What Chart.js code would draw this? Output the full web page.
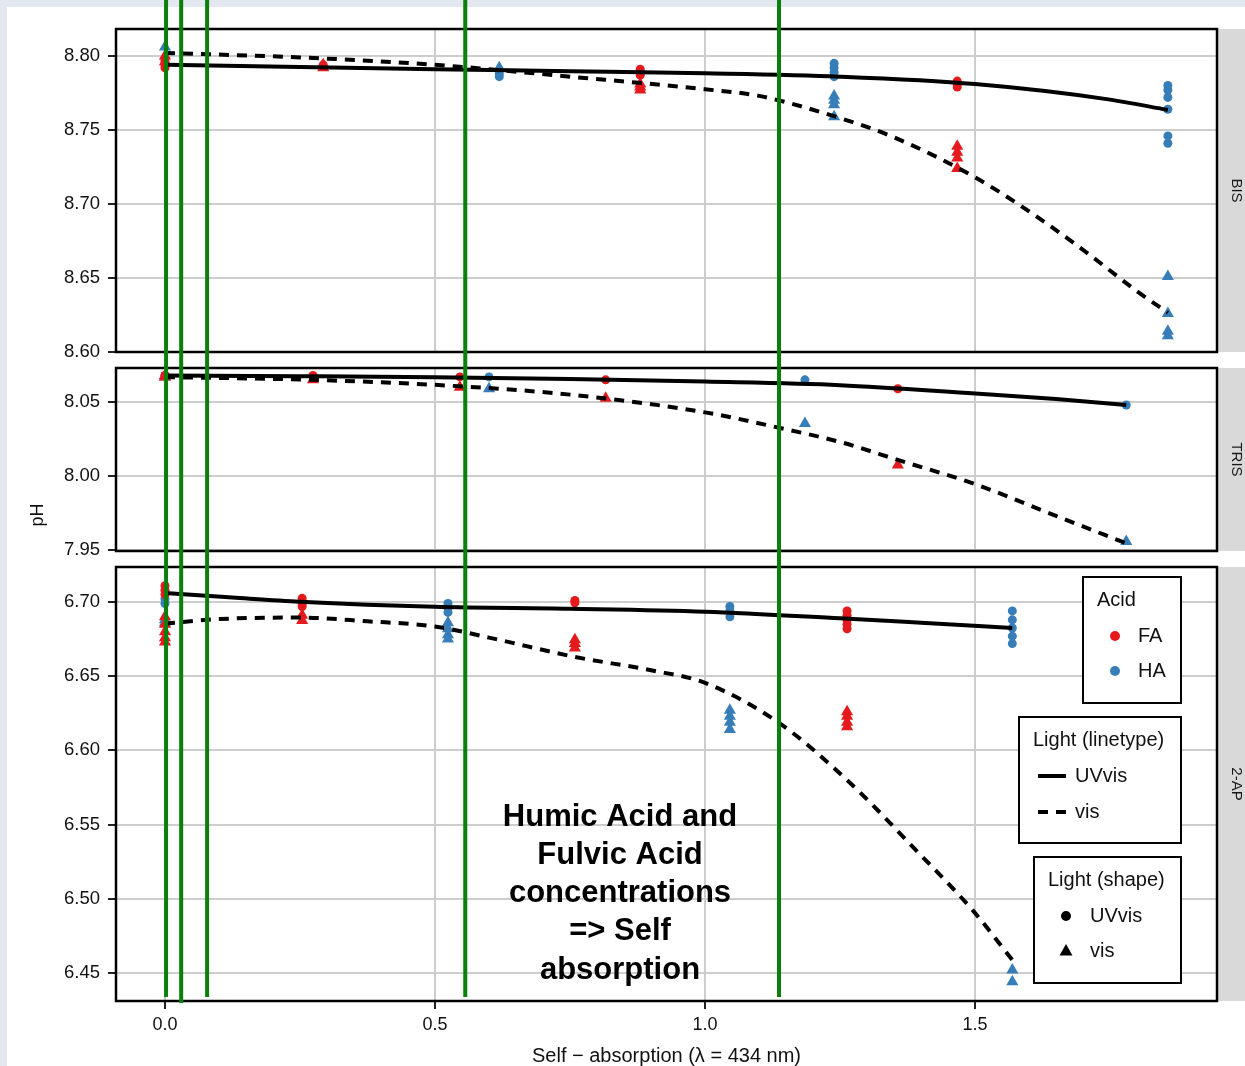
<!DOCTYPE html>
<html>
<head>
<meta charset="utf-8">
<script src="https://cdn.jsdelivr.net/npm/chart.js@4.4.0/dist/chart.umd.min.js"></script>
<style>
  body { margin: 0; background: #e3e7f0; width: 1245px; height: 1066px; overflow: hidden; }
  #page { position: absolute; left: 7px; top: 7px; width: 1238px; height: 1059px; background: #fff; }
  canvas { position: absolute; left: 0; }
</style>
</head>
<body>
<div id="page"></div>
<canvas id="bis" width="1245" height="360" style="top:0"></canvas>
<canvas id="tris" width="1245" height="199" style="top:360px"></canvas>
<canvas id="ap" width="1245" height="507" style="top:559px"></canvas>
<script>
// ---- data ----
const xTicks = [0, 0.5, 1.0, 1.5];
const greenLineX = [0.002, 0.030, 0.078, 0.556, 1.137];

const bisTicks = [8.60, 8.65, 8.70, 8.75, 8.80];
const bisFaUvvis = [[0,8.797],[0,8.794],[0,8.792],[0.293,8.794],[0.880,8.791],[0.880,8.789],[0.880,8.787],[1.467,8.783],[1.467,8.781],[1.467,8.779]];
const bisFaVis = [[0,8.800],[0,8.796],[0.293,8.794],[0.293,8.792],[0.880,8.781],[0.880,8.779],[0.880,8.777],[1.467,8.739],[1.467,8.735],[1.467,8.731],[1.467,8.724]];
const bisHaUvvis = [[0,8.795],[0.619,8.788],[0.619,8.786],[1.239,8.795],[1.239,8.792],[1.239,8.789],[1.239,8.786],[1.857,8.780],[1.857,8.777],[1.857,8.772],[1.857,8.764],[1.857,8.746],[1.857,8.741]];
const bisHaVis = [[0,8.806],[0.619,8.792],[1.239,8.773],[1.239,8.770],[1.239,8.767],[1.239,8.759],[1.857,8.651],[1.857,8.626],[1.857,8.614],[1.857,8.611]];
const bisUvvisFitX = [0, 0.25, 0.5, 0.75, 1.0, 1.25, 1.5, 1.75, 1.857];
const bisUvvisFit = [8.7940, 8.7925, 8.7910, 8.7897, 8.7883, 8.7860, 8.7810, 8.7705, 8.7635];
const bisVisFitX = [0, 0.25, 0.5, 0.75, 1.0, 1.1, 1.25, 1.35, 1.5, 1.6, 1.7, 1.8, 1.857];
const bisVisFit = [8.8020, 8.7990, 8.7940, 8.7860, 8.7775, 8.7730, 8.7580, 8.7450, 8.7180, 8.6950, 8.6690, 8.6410, 8.6265];

const trisTicks = [7.95, 8.00, 8.05];
const trisFaUvvis = [[0,8.068],[0.274,8.068],[0.546,8.067],[0.816,8.065],[1.357,8.059]];
const trisFaVis = [[0,8.068],[0,8.067],[0.274,8.065],[0.546,8.060],[0.816,8.0525],[1.357,8.0075]];
const trisHaUvvis = [[0,8.068],[0.600,8.067],[1.185,8.065],[1.780,8.048]];
const trisHaVis = [[0,8.067],[0.600,8.059],[1.185,8.0355],[1.780,7.9557]];
const trisUvvisFitX = [0, 0.25, 0.5, 0.75, 1.0, 1.25, 1.5, 1.65, 1.78];
const trisUvvisFit = [8.0680, 8.0675, 8.0668, 8.0655, 8.0638, 8.0614, 8.0557, 8.0520, 8.0480];
const trisVisFitX = [0, 0.25, 0.5, 0.75, 1.0, 1.137, 1.25, 1.36, 1.5, 1.65, 1.78];
const trisVisFit = [8.0668, 8.0652, 8.0616, 8.0550, 8.0430, 8.0326, 8.0230, 8.0105, 7.9945, 7.9730, 7.9545];

const apTicks = [6.45, 6.50, 6.55, 6.60, 6.65, 6.70];
const apFaUvvis = [[0,6.711],[0,6.708],[0,6.705],[0.254,6.7025],[0.254,6.699],[0.254,6.697],[0.759,6.701],[0.759,6.6995],[1.263,6.694],[1.263,6.691],[1.263,6.688],[1.263,6.685],[1.263,6.682]];
const apFaVis = [[0,6.690],[0,6.685],[0,6.680],[0,6.676],[0,6.673],[0.254,6.691],[0.254,6.6875],[0.759,6.6745],[0.759,6.672],[0.759,6.669],[1.263,6.626],[1.263,6.623],[1.263,6.619],[1.263,6.616]];
const apHaUvvis = [[0,6.702],[0,6.699],[0.524,6.699],[0.524,6.696],[0.524,6.693],[1.046,6.697],[1.046,6.694],[1.046,6.690],[1.569,6.694],[1.569,6.688],[1.569,6.6825],[1.569,6.677],[1.569,6.672]];
const apHaVis = [[0,6.688],[0,6.686],[0.524,6.686],[0.524,6.682],[0.524,6.678],[0.524,6.675],[1.046,6.627],[1.046,6.623],[1.046,6.619],[1.046,6.614],[1.569,6.452],[1.569,6.444]];
const apUvvisFitX = [0, 0.125, 0.25, 0.5, 0.75, 1.0, 1.25, 1.4, 1.569];
const apUvvisFit = [6.7060, 6.7030, 6.7002, 6.6968, 6.6955, 6.6935, 6.6890, 6.6860, 6.6825];
const apVisFitX = [0, 0.1, 0.25, 0.375, 0.5, 0.6, 0.759, 0.9, 1.0, 1.137, 1.263, 1.39, 1.495, 1.569];
const apVisFit = [6.6855, 6.6885, 6.6895, 6.6870, 6.6835, 6.6760, 6.6630, 6.6540, 6.6455, 6.6185, 6.5800, 6.5330, 6.4925, 6.4588];

const acidNames = ['FA', 'HA'];
const lightNames = ['UVvis', 'vis'];
const noteLines = ['Humic Acid and', 'Fulvic Acid', 'concentrations', '=> Self', 'absorption'];

// ---- styling ----
const RED = '#e41a1c', BLUE = '#377eb8', GRID = '#cdcdcd', GREEN = '#0a800a';
const FONT = "'Liberation Sans', Arial, sans-serif";
Chart.defaults.font.family = FONT;

function pts(arr) { return arr.map(p => ({x: p[0], y: p[1]})); }
function curve(xs, ys) { return xs.map((x, i) => ({x: x, y: ys[i]})); }

function pointSet(data, color, shape) {
  return {
    data: pts(data), backgroundColor: color, borderColor: color, borderWidth: 0,
    pointStyle: shape, pointRadius: shape === 'circle' ? 4.5 : 7, showLine: false, order: 2
  };
}
function lineSet(xs, ys, dashed) {
  return {
    data: curve(xs, ys), borderColor: '#000', borderWidth: 4, borderDash: dashed ? [10, 8] : [],
    showLine: true, pointRadius: 0, cubicInterpolationMode: 'monotone', fill: false, order: 1
  };
}

function drawLegends(ctx, off) {
  ctx.lineWidth = 2;
  ctx.strokeStyle = '#000';
  ctx.textBaseline = 'middle';
  ctx.textAlign = 'left';
  ctx.font = '20px ' + FONT;
  // Acid
  ctx.fillStyle = '#fff';
  ctx.fillRect(1083, 577 - off, 98, 126);
  ctx.strokeRect(1083, 577 - off, 98, 126);
  ctx.fillStyle = '#111';
  ctx.fillText('Acid', 1097, 600 - off);
  [RED, BLUE].forEach((c, i) => {
    const y = 636 + i * 35 - off;
    ctx.fillStyle = c;
    ctx.beginPath(); ctx.arc(1115, y, 5, 0, Math.PI * 2); ctx.fill();
    ctx.fillStyle = '#111';
    ctx.fillText(acidNames[i], 1138, y);
  });
  // Light (linetype)
  ctx.fillStyle = '#fff';
  ctx.fillRect(1019, 717 - off, 162, 126);
  ctx.strokeRect(1019, 717 - off, 162, 126);
  ctx.fillStyle = '#111';
  ctx.fillText('Light (linetype)', 1033, 740 - off);
  lightNames.forEach((n, i) => {
    const y = 776 + i * 36 - off;
    ctx.save();
    ctx.lineWidth = 4;
    ctx.setLineDash(i ? [10, 8] : []);
    ctx.beginPath(); ctx.moveTo(1038, y); ctx.lineTo(1066, y); ctx.stroke();
    ctx.restore();
    ctx.fillStyle = '#111';
    ctx.fillText(n, 1075, y);
  });
  // Light (shape)
  ctx.fillStyle = '#fff';
  ctx.fillRect(1034, 857 - off, 147, 126);
  ctx.strokeRect(1034, 857 - off, 147, 126);
  ctx.fillStyle = '#111';
  ctx.fillText('Light (shape)', 1048, 880 - off);
  lightNames.forEach((n, i) => {
    const y = 916 + i * 35 - off;
    ctx.fillStyle = '#000';
    ctx.beginPath();
    if (i === 0) {
      ctx.arc(1066, y, 5, 0, Math.PI * 2);
    } else {
      ctx.moveTo(1066, y - 7); ctx.lineTo(1072.5, y + 4.5); ctx.lineTo(1059.5, y + 4.5); ctx.closePath();
    }
    ctx.fill();
    ctx.fillStyle = '#111';
    ctx.fillText(n, 1090, y);
  });
}

const panelDecor = {
  id: 'panelDecor',
  afterDraw(chart, args, o) {
    const {ctx, chartArea: a} = chart;
    const x = chart.scales.x;
    ctx.save();
    // facet strip
    ctx.fillStyle = '#d9d9d9';
    ctx.fillRect(a.right, a.top, chart.width - a.right, a.bottom - a.top);
    ctx.save();
    ctx.translate(a.right + 19, (a.top + a.bottom) / 2);
    ctx.rotate(Math.PI / 2);
    ctx.fillStyle = '#1a1a1a';
    ctx.font = '15px ' + FONT;
    ctx.textAlign = 'center';
    ctx.textBaseline = 'middle';
    ctx.fillText(o.strip, 0, 0);
    ctx.restore();
    // panel border
    ctx.strokeStyle = '#000';
    ctx.lineWidth = 2.5;
    ctx.strokeRect(a.left, a.top, a.right - a.left, a.bottom - a.top);
    // y title
    if (o.yTitle) {
      ctx.save();
      ctx.translate(38, o.yTitle);
      ctx.rotate(-Math.PI / 2);
      ctx.fillStyle = '#111';
      ctx.font = '18px ' + FONT;
      ctx.textAlign = 'center';
      ctx.textBaseline = 'middle';
      ctx.fillText('pH', 0, 0);
      ctx.restore();
    }
    if (o.note) {
      ctx.fillStyle = '#000';
      ctx.font = 'bold 31px ' + FONT;
      ctx.textAlign = 'center';
      ctx.textBaseline = 'middle';
      noteLines.forEach((t, i) => ctx.fillText(t, 620, 258 + i * 38.3));
      drawLegends(ctx, 559);
    }
    // green marker lines
    ctx.fillStyle = GREEN;
    greenLineX.forEach((v, i) => {
      const px = x.getPixelForValue(v);
      const bottom = o.greenBottom ? o.greenBottom[i] : chart.height;
      ctx.fillRect(px - 2, 0, 4, bottom);
    });
    ctx.restore();
  }
};

function panelChart(id, cfg) {
  return new Chart(document.getElementById(id), {
    type: 'scatter',
    data: {datasets: cfg.datasets},
    options: {
      responsive: false,
      animation: false,
      layout: {padding: {top: cfg.padTop, bottom: cfg.padBottom, left: 0, right: 28}},
      plugins: {
        legend: {display: false},
        tooltip: {enabled: false},
        panelDecor: cfg.decor
      },
      scales: {
        x: {
          type: 'linear', min: -0.0907, max: 1.948,
          afterBuildTicks: s => { s.ticks = xTicks.map(v => ({value: v})); },
          afterFit: s => { s.height = cfg.showX ? 65 : 0; s.paddingLeft = 0; s.paddingRight = 0; },
          grid: {color: GRID, lineWidth: 2, drawTicks: cfg.showX, tickLength: 8, tickColor: '#222', tickWidth: 2},
          border: {display: false},
          ticks: {display: cfg.showX, padding: 5, color: '#111', font: {size: 18}, maxRotation: 0, autoSkip: false,
                  callback: v => v.toFixed(1)},
          title: {display: cfg.showX, text: 'Self \u2212 absorption (\u03bb = 434 nm)', color: '#111',
                  font: {size: 20}, padding: {top: 0, bottom: -2}}
        },
        y: {
          min: cfg.yMin, max: cfg.yMax,
          afterBuildTicks: s => { s.ticks = cfg.yTicks.map(v => ({value: v})); },
          afterFit: s => { s.width = 116; s.paddingTop = 0; s.paddingBottom = 0; },
          grid: {color: GRID, lineWidth: 2, tickLength: 8, tickColor: '#222', tickWidth: 2},
          border: {display: false},
          ticks: {padding: 8, color: '#111', font: {size: 18.5}, autoSkip: false, callback: v => v.toFixed(2)}
        }
      }
    },
    plugins: [panelDecor]
  });
}

panelChart('bis', {
  padTop: 29, padBottom: 8, showX: false,
  yMin: 8.60, yMax: 8.8182, yTicks: bisTicks,
  decor: {strip: 'BIS'},
  datasets: [
    lineSet(bisUvvisFitX, bisUvvisFit, false),
    lineSet(bisVisFitX, bisVisFit, true),
    pointSet(bisFaUvvis, RED, 'circle'),
    pointSet(bisFaVis, RED, 'triangle'),
    pointSet(bisHaUvvis, BLUE, 'circle'),
    pointSet(bisHaVis, BLUE, 'triangle')
  ]
});

panelChart('tris', {
  padTop: 8, padBottom: 8, showX: false,
  yMin: 7.9493, yMax: 8.0730, yTicks: trisTicks,
  decor: {strip: 'TRIS', yTitle: 155},
  datasets: [
    lineSet(trisUvvisFitX, trisUvvisFit, false),
    lineSet(trisVisFitX, trisVisFit, true),
    pointSet(trisFaUvvis, RED, 'circle'),
    pointSet(trisFaVis, RED, 'triangle'),
    pointSet(trisHaUvvis, BLUE, 'circle'),
    pointSet(trisHaVis, BLUE, 'triangle')
  ]
});

panelChart('ap', {
  padTop: 8, padBottom: 0, showX: true,
  yMin: 6.4311, yMax: 6.7236, yTicks: apTicks,
  decor: {strip: '2-AP', note: true, greenBottom: [438, 444, 438, 438, 438]},
  datasets: [
    lineSet(apUvvisFitX, apUvvisFit, false),
    lineSet(apVisFitX, apVisFit, true),
    pointSet(apFaUvvis, RED, 'circle'),
    pointSet(apFaVis, RED, 'triangle'),
    pointSet(apHaUvvis, BLUE, 'circle'),
    pointSet(apHaVis, BLUE, 'triangle')
  ]
});
</script>
</body>
</html>
